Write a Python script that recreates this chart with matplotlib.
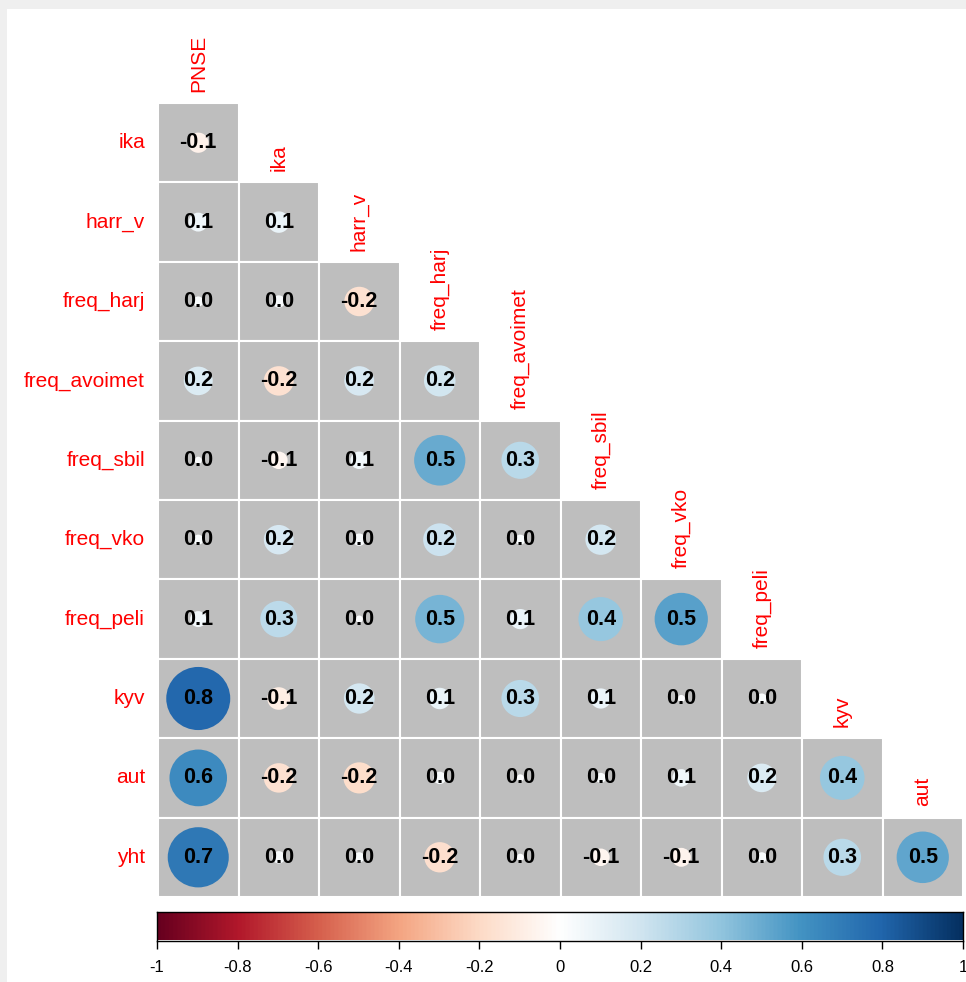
import numpy as np
import matplotlib
matplotlib.use("Agg")
import matplotlib.pyplot as plt
from matplotlib.patches import Rectangle, Circle
from matplotlib.colors import LinearSegmentedColormap, Normalize

plt.rcParams['font.family'] = ['Liberation Sans', 'DejaVu Sans']

variables = ["PNSE", "ika", "harr_v", "freq_harj", "freq_avoimet", "freq_sbil",
             "freq_vko", "freq_peli", "kyv", "aut", "yht"]

# lower triangle of the correlation matrix (row i, columns 0..i-1)
corr_rows = [
    [-0.08],
    [0.07, 0.09],
    [0.02, 0.03, -0.17],
    [0.16, -0.17, 0.17, 0.19],
    [0.01, -0.06, 0.06, 0.50, 0.27],
    [0.02, 0.17, 0.03, 0.21, 0.02, 0.18],
    [0.05, 0.26, 0.01, 0.46, 0.08, 0.38, 0.54],
    [0.78, -0.10, 0.18, 0.09, 0.27, 0.08, 0.01, 0.02],
    [0.63, -0.17, -0.19, 0.03, 0.01, 0.02, 0.06, 0.16, 0.38],
    [0.71, 0.03, 0.02, -0.18, 0.01, -0.06, -0.07, 0.02, 0.27, 0.52],
]

cbar_ticks = [-1, -0.8, -0.6, -0.4, -0.2, 0, 0.2, 0.4, 0.6, 0.8, 1]
cbar_labels = ["-1", "-0.8", "-0.6", "-0.4", "-0.2", "0", "0.2", "0.4", "0.6", "0.8", "1"]

# corrplot's RdBu palette
rdbu = ["#67001F", "#B2182B", "#D6604D", "#F4A582", "#FDDBC7", "#FFFFFF",
        "#D1E5F0", "#92C5DE", "#4393C3", "#2166AC", "#053061"]
cmap = LinearSegmentedColormap.from_list("corrRdBu", rdbu, N=200)
norm = Normalize(-1, 1)

W, H = 966, 982
fig = plt.figure(figsize=(W / 100, H / 100), dpi=100)

# screenshot frame
fig.patches.append(Rectangle((0, 1 - 9 / H), 1, 9 / H, transform=fig.transFigure,
                             facecolor="#EFEFEF", edgecolor="none", zorder=0))
fig.patches.append(Rectangle((0, 0), 7 / W, 1, transform=fig.transFigure,
                             facecolor="#EFEFEF", edgecolor="none", zorder=0))

n = len(corr_rows)
ax = fig.add_axes([158 / W, 1 - 897 / H, 805 / W, 794 / H])
ax.set_xlim(0, n)
ax.set_ylim(n, 0)
ax.axis('off')

for i, row in enumerate(corr_rows):
    for j, v in enumerate(row):
        ax.add_patch(Rectangle((j, i), 1, 1, facecolor="#BEBEBE", edgecolor="white", lw=1.5))
        ax.add_patch(Circle((j + 0.5, i + 0.5), 0.45 * np.sqrt(abs(v)),
                            facecolor=cmap(norm(v)), edgecolor="none"))
        ax.text(j + 0.5, i + 0.5, f"{v:.1f}", ha="center", va="center",
                fontsize=15.5, fontweight="bold", color="black")
    ax.text(-0.16, i + 0.5, variables[i + 1], ha="right", va="center",
            fontsize=15, color="red", clip_on=False)

for j in range(n):
    ax.text(j + 0.5, j - 0.14, variables[j], ha="center", va="bottom", rotation=90,
            fontsize=15, color="red", clip_on=False)

# colour legend
cax = fig.add_axes([157 / W, 1 - 940.5 / H, 806 / W, 28.5 / H])
grad = np.linspace(-1, 1, 400).reshape(1, -1)
cax.imshow(grad, cmap=cmap, norm=norm, aspect="auto", extent=[-1, 1, 0, 1])
cax.set_xlim(-1, 1)
cax.set_yticks([])
cax.set_xticks(cbar_ticks)
cax.set_xticklabels(cbar_labels, fontsize=12)
cax.tick_params(axis="x", length=6, width=1, pad=8)
for s in cax.spines.values():
    s.set_linewidth(1)

plt.savefig("out.png", dpi=100)
plt.close()
